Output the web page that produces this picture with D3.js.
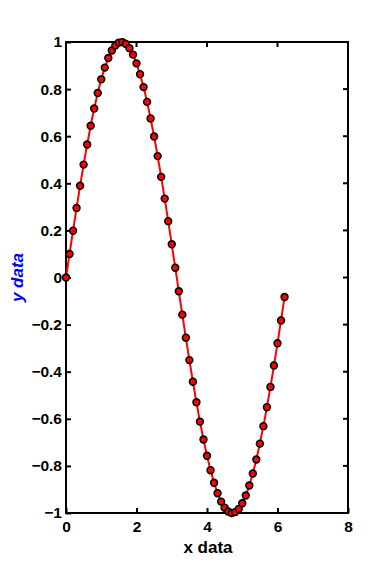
<!DOCTYPE html>
<html><head><meta charset="utf-8">
<script src="https://cdn.jsdelivr.net/npm/d3@7"></script>
<style>body{margin:0;background:#fff}svg{display:block}text{font-family:"Liberation Sans",Arial,sans-serif;font-weight:bold}</style>
</head><body>
<script>
const xValues = [0,0.1,0.2,0.3,0.4,0.5,0.6,0.7,0.8,0.9,1.0,1.1,1.2,1.3,1.4,1.5,1.6,1.7,1.8,1.9,2.0,2.1,2.2,2.3,2.4,2.5,2.6,2.7,2.8,2.9,3.0,3.1,3.2,3.3,3.4,3.5,3.6,3.7,3.8,3.9,4.0,4.1,4.2,4.3,4.4,4.5,4.6,4.7,4.8,4.9,5.0,5.1,5.2,5.3,5.4,5.5,5.6,5.7,5.8,5.9,6.0,6.1,6.2];
const yValues = [0,0.0998,0.1987,0.2955,0.3894,0.4794,0.5646,0.6442,0.7174,0.7833,0.8415,0.8912,0.9320,0.9636,0.9854,0.9975,0.9996,0.9917,0.9738,0.9463,0.9093,0.8632,0.8085,0.7457,0.6755,0.5985,0.5155,0.4274,0.3350,0.2392,0.1411,0.0416,-0.0584,-0.1577,-0.2555,-0.3508,-0.4425,-0.5298,-0.6119,-0.6878,-0.7568,-0.8183,-0.8716,-0.9162,-0.9516,-0.9775,-0.9937,-0.9999,-0.9962,-0.9825,-0.9589,-0.9258,-0.8835,-0.8323,-0.7728,-0.7055,-0.6313,-0.5507,-0.4646,-0.3739,-0.2794,-0.1822,-0.0831];
const xTicks = [0,2,4,6,8];
const yTicks = [-1,-0.8,-0.6,-0.4,-0.2,0,0.2,0.4,0.6,0.8,1];
const xLabel = "x data", yLabel = "y data";

const W=384,H=576, L=66, R=348, T=42, B=513;
const svg=d3.select("body").append("svg").attr("width",W).attr("height",H);
const x=d3.scaleLinear().domain([0,8]).range([L,R]);
const y=d3.scaleLinear().domain([-1,1]).range([B,T]);

svg.append("rect").attr("x",L).attr("y",T).attr("width",R-L).attr("height",B-T)
  .attr("fill","none").attr("stroke","#000").attr("stroke-width",2);

const fmt = d => d3.format("")(d);
const ax = svg.append("g").attr("transform",`translate(0,${B})`)
  .call(d3.axisBottom(x).tickValues(xTicks).tickSize(-5).tickPadding(8).tickFormat(fmt));
const ay = svg.append("g").attr("transform",`translate(${L},0)`)
  .call(d3.axisLeft(y).tickValues(yTicks).tickSize(-5).tickPadding(4).tickFormat(fmt));
[ax,ay].forEach(g=>{
  g.select(".domain").remove();
  g.selectAll(".tick line").attr("stroke","#000").attr("stroke-width",2);
  g.selectAll("text").attr("fill","#000").style("font-size","15.5px").style("font-weight","bold")
   .style("font-family",'"Liberation Sans",Arial,sans-serif');
});
svg.append("g").selectAll("line").data(xTicks).join("line")
  .attr("x1",d=>x(d)).attr("x2",d=>x(d)).attr("y1",T).attr("y2",T+5).attr("stroke","#000").attr("stroke-width",2);
svg.append("g").selectAll("line").data(yTicks).join("line")
  .attr("y1",d=>y(d)).attr("y2",d=>y(d)).attr("x1",R).attr("x2",R-5).attr("stroke","#000").attr("stroke-width",2);

const pts = xValues.map((v,i)=>[v,yValues[i]]);
svg.append("path").datum(pts).attr("fill","none").attr("stroke","#ff0000").attr("stroke-width",2)
  .attr("d",d3.line().x(d=>x(d[0])).y(d=>y(d[1])));
svg.append("g").selectAll("circle").data(pts).join("circle")
  .attr("cx",d=>x(d[0])).attr("cy",d=>y(d[1])).attr("r",3.4)
  .attr("fill","#ff0000").attr("stroke","#000").attr("stroke-width",1.6);

svg.append("text").attr("x",(L+R)/2+1).attr("y",553).attr("text-anchor","middle")
  .style("font-size","17px").text(xLabel);
svg.append("text").attr("transform",`translate(23,${(T+B)/2}) rotate(-90)`).attr("text-anchor","middle")
  .style("font-size","17px").style("font-style","italic").attr("fill","#0000ff").text(yLabel);
</script>
</body></html>
